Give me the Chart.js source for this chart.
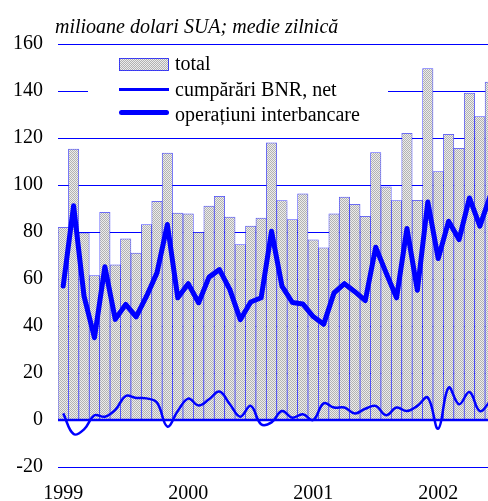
<!DOCTYPE html>
<html>
<head>
<meta charset="utf-8">
<script src="https://cdn.jsdelivr.net/npm/chart.js@4.4.1/dist/chart.umd.min.js"></script>
<style>
  html, body { margin: 0; padding: 0; background: #fff; overflow: hidden; }
  #wrap { position: relative; width: 500px; height: 501px; }
  #title { position: absolute; left: 55px; top: 14px; font: italic 20px "Liberation Serif"; line-height: 24px; white-space: nowrap; color: #000; }
  #legend { position: absolute; left: 88px; top: 50px; width: 300px; height: 80px; background: #fff; font: 20px "Liberation Serif"; color: #000; }
  #legend .txt { position: absolute; left: 87px; line-height: 24px; white-space: nowrap; }
  #legend .sw { position: absolute; left: 31px; width: 50px; }
</style>
</head>
<body>
<div id="wrap">
  <canvas id="chart"></canvas>
  <div id="title">milioane dolari SUA; medie zilnică</div>
  <div id="legend">
    <div class="sw" id="swBar" style="top:8px;height:11px;border:1px solid rgba(0,0,255,0.7);width:48px;"></div>
    <div class="txt" style="top:1px;">total</div>
    <div class="sw" style="top:38px;height:2.5px;background:#0000ff;"></div>
    <div class="txt" style="top:27px;">cumpărări BNR, net</div>
    <div class="sw" style="top:60px;height:5px;border-radius:2.5px;background:#0000ff;"></div>
    <div class="txt" style="top:52px;">operațiuni interbancare</div>
  </div>
</div>
<script>
// lunar, ian 1999 - iun 2002
const years = ["1999", "2000", "2001", "2002"]
const months = []
years.forEach(y => {
  for (let m = 1; m <= 12; m++) months.push(y + "-" + String(m).padStart(2, "0"))
})
months.length = 42

const total = [82.0, 115.3, 79.6, 61.5, 88.4, 66.0, 77.1, 71.0, 83.2, 93.1, 113.6, 88.1,
               87.7, 79.9, 91.0, 95.2, 86.4, 74.7, 82.5, 85.9, 117.9, 93.4, 85.3, 96.2,
               76.7, 73.3, 87.7, 94.9, 91.8, 86.7, 113.8, 99.2, 93.4, 122.0, 93.5, 149.5,
               105.7, 121.6, 115.6, 139.1, 129.1, 143.8]

const bnr = [2.8, -6.0, -4.0, 2.0, 1.4, 4.3, 10.2, 9.4, 9.2, 7.4, -2.8, 3.8,
             9.1, 6.2, 8.8, 12.1, 6.7, 1.4, 6.0, -1.8, -1.0, 3.8, 1.0, 2.4,
             0.0, 7.1, 5.3, 5.3, 2.8, 4.8, 6.0, 2.0, 5.3, 3.8, 6.0, 9.5,
             -3.7, 13.8, 6.7, 11.9, 3.8, 8.0]

const interbank = [57.0, 91.2, 52.7, 35.0, 65.2, 42.8, 49.2, 43.9, 52.7, 62.6, 83.2, 52.0,
                   58.0, 49.9, 60.8, 64.0, 55.5, 42.7, 50.2, 52.0, 80.3, 57.0, 50.0, 49.4,
                   44.0, 40.7, 54.1, 58.0, 54.6, 50.8, 73.5, 62.6, 52.0, 81.5, 55.2, 92.8,
                   68.7, 84.6, 76.8, 94.5, 82.5, 95.5]

const yTicks = [-20, 0, 20, 40, 60, 80, 100, 120, 140, 160]

// textura gri punctata pentru bare
const pc = document.createElement("canvas")
pc.width = 2
pc.height = 2
const pctx = pc.getContext("2d")
pctx.fillStyle = "#ececec"
pctx.fillRect(0, 0, 2, 2)
pctx.fillStyle = "#b2b2b2"
pctx.fillRect(0, 0, 1, 1)
pctx.fillRect(1, 1, 1, 1)
document.getElementById("swBar").style.backgroundImage = "url(" + pc.toDataURL() + ")"

const ctx = document.getElementById("chart").getContext("2d")
const pattern = ctx.createPattern(pc, "repeat")

// linia de zero, peste bare si sub linii
const zeroLine = {
  id: "zeroLine",
  afterDatasetDraw(chart, args) {
    if (chart.data.datasets[args.index].type !== "bar") return
    const { ctx, chartArea, scales } = chart
    const y = scales.y.getPixelForValue(0)
    ctx.save()
    ctx.strokeStyle = "#0000ff"
    ctx.lineWidth = 2.5
    ctx.beginPath()
    ctx.moveTo(chartArea.left, y)
    ctx.lineTo(chartArea.right, y)
    ctx.stroke()
    ctx.restore()
  }
}

new Chart(ctx, {
  data: {
    labels: months,
    datasets: [
      {
        type: "line",
        label: "operațiuni interbancare",
        data: interbank,
        borderColor: "#0000ff",
        borderWidth: 5,
        pointRadius: 0,
        tension: 0,
        borderJoinStyle: "round",
        borderCapStyle: "round",
        order: 1
      },
      {
        type: "line",
        label: "cumpărări BNR, net",
        data: bnr,
        borderColor: "#0000ff",
        borderWidth: 2.5,
        pointRadius: 0,
        tension: 0.4,
        order: 2
      },
      {
        type: "bar",
        label: "total",
        data: total,
        backgroundColor: pattern,
        borderColor: "rgba(0,0,255,0.7)",
        borderWidth: 0.75,
        categoryPercentage: 1,
        barPercentage: 1,
        order: 3
      }
    ]
  },
  options: {
    responsive: true,
    maintainAspectRatio: false,
    animation: false,
    devicePixelRatio: 1,
    layout: { padding: { top: 44, right: 4.5, left: 0, bottom: 0 } },
    plugins: {
      legend: { display: false },
      tooltip: { enabled: false }
    },
    scales: {
      x: {
        grid: { display: false },
        border: { display: false },
        ticks: {
          autoSkip: false,
          maxRotation: 0,
          padding: 7,
          color: "#000",
          font: { family: "Liberation Serif", size: 20 },
          callback: function(v, i) {
            return i % 12 === 0 ? this.getLabelForValue(v).slice(0, 4) : ""
          }
        },
        afterFit(scale) { scale.height = 34 }
      },
      y: {
        min: -20,
        max: 160,
        afterBuildTicks(scale) { scale.ticks = yTicks.map(v => ({ value: v })) },
        grid: { color: "#0000ff", lineWidth: 1, drawTicks: false },
        border: { display: false },
        ticks: {
          padding: 15,
          color: "#000",
          font: { family: "Liberation Serif", size: 20 }
        },
        afterFit(scale) { scale.width = 58 }
      }
    }
  },
  plugins: [zeroLine]
})
</script>
</body>
</html>
